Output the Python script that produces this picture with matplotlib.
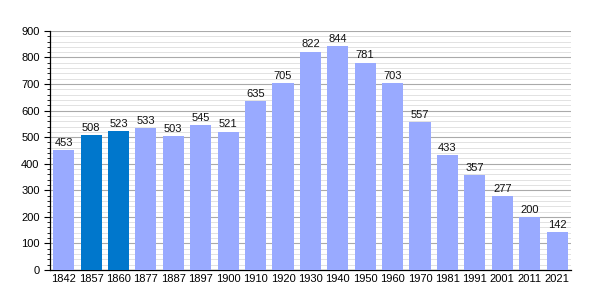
import matplotlib
matplotlib.use("Agg")
import matplotlib.pyplot as plt
from matplotlib.ticker import MultipleLocator

years = ["1842", "1857", "1860", "1877", "1887", "1897", "1900", "1910", "1920", "1930",
         "1940", "1950", "1960", "1970", "1981", "1991", "2001", "2011", "2021"]
population = [453, 508, 523, 533, 503, 545, 521, 635, 705, 822,
              844, 781, 703, 557, 433, 357, 277, 200, 142]
highlight = ["1857", "1860"]

light = "#99aaff"
dark = "#0077cc"
colors = [dark if y in highlight else light for y in years]

fig = plt.figure(figsize=(6, 3), dpi=100)
ax = fig.add_axes([0.0833, 0.1, 0.868, 0.797])
x = list(range(len(years)))
ax.bar(x, population, width=0.77, color=colors, zorder=3)
for xi, v in zip(x, population):
    ax.text(xi, v + 8, str(v), ha="center", va="bottom", fontsize=8, color="#111111",
            family="Liberation Sans", zorder=4)

ax.set_xlim(-0.5, len(years) - 0.5)
ax.set_ylim(0, 900)
ax.set_xticks(x)
ax.set_xticklabels(years, family="Liberation Sans", fontsize=8)
ax.yaxis.set_major_locator(MultipleLocator(100))
ax.yaxis.set_minor_locator(MultipleLocator(20))
for lbl in ax.get_yticklabels():
    lbl.set_family("Liberation Sans")
    lbl.set_fontsize(8)
ax.grid(axis="y", which="major", color="#aaaaaa", linewidth=0.8, zorder=0)
ax.grid(axis="y", which="minor", color="#dddddd", linewidth=0.6, zorder=0)
ax.tick_params(axis="x", length=0, pad=3)
ax.tick_params(axis="y", which="major", length=4, width=0.8, direction="out")
ax.tick_params(axis="y", which="minor", length=2, width=0.6, direction="out")
for s in ["top", "right"]:
    ax.spines[s].set_visible(False)
ax.spines["left"].set_linewidth(0.9)
ax.spines["bottom"].set_linewidth(0.9)
fig.savefig("out.png", dpi=100)
